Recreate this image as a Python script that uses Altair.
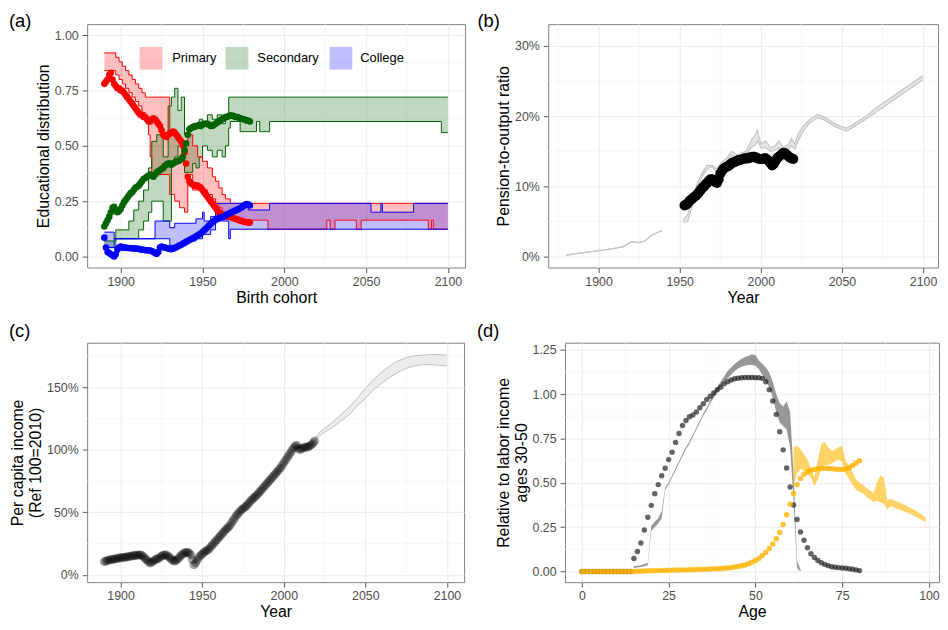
import altair as alt
import pandas as pd

FONT = "Liberation Sans"
MINOR = "#F3F3F3"

# ---------------- Panel (a): educational distribution ----------------
EDU_LEVELS = ["Primary", "Secondary", "College"]
EDU_COLORS = ["red", "darkgreen", "blue"]

COHORTS = list(range(1890, 1980))
PRIMARY_OBS = [
    0.78, 0.79, 0.80, 0.82, 0.83, 0.80, 0.78, 0.77, 0.76, 0.76,
    0.75, 0.75, 0.74, 0.73, 0.72, 0.71, 0.70, 0.69, 0.68, 0.67,
    0.66, 0.65, 0.64, 0.64, 0.63, 0.63, 0.62, 0.61, 0.61, 0.62,
    0.625, 0.62, 0.61, 0.60, 0.59, 0.57, 0.55, 0.545, 0.54, 0.55,
    0.555, 0.56, 0.565, 0.56, 0.55, 0.54, 0.53, 0.52, 0.50, 0.47,
    0.42, 0.36, 0.34, 0.33, 0.325, 0.32, 0.32, 0.32, 0.315, 0.31,
    0.30, 0.29, 0.28, 0.27, 0.26, 0.25, 0.24, 0.23, 0.22, 0.21,
    0.20, 0.195, 0.19, 0.185, 0.185, 0.18, 0.18, 0.178, 0.176, 0.173,
    0.17, 0.168, 0.165, 0.162, 0.16, 0.158, 0.156, 0.155, 0.154, 0.153,
]
SECONDARY_OBS = [
    0.135, 0.15, 0.165, 0.18, 0.20, 0.22, 0.225, 0.21, 0.20, 0.205,
    0.215, 0.23, 0.245, 0.255, 0.265, 0.275, 0.285, 0.29, 0.30, 0.31,
    0.315, 0.32, 0.33, 0.34, 0.35, 0.355, 0.36, 0.365, 0.37, 0.365,
    0.36, 0.37, 0.38, 0.385, 0.39, 0.395, 0.40, 0.41, 0.415, 0.42,
    0.42, 0.415, 0.42, 0.425, 0.43, 0.43, 0.435, 0.44, 0.45, 0.48,
    0.51, 0.55, 0.575, 0.58, 0.585, 0.585, 0.59, 0.59, 0.595, 0.59,
    0.595, 0.60, 0.60, 0.60, 0.595, 0.59, 0.59, 0.595, 0.60, 0.605,
    0.61, 0.615, 0.62, 0.625, 0.63, 0.63, 0.635, 0.637, 0.637, 0.635,
    0.63, 0.63, 0.628, 0.625, 0.622, 0.62, 0.618, 0.615, 0.613, 0.61,
]
COLLEGE_OBS = [
    0.085, 0.04, 0.02, 0.015, 0.01, 0.005, 0.0, 0.01, 0.03, 0.04,
    0.045, 0.04, 0.04, 0.04, 0.038, 0.038, 0.037, 0.037, 0.036, 0.036,
    0.035, 0.035, 0.032, 0.03, 0.03, 0.028, 0.028, 0.027, 0.027, 0.025,
    0.02, 0.015, 0.012, 0.02, 0.04, 0.045, 0.042, 0.04, 0.038, 0.036,
    0.034, 0.033, 0.035, 0.038, 0.042, 0.046, 0.05, 0.053, 0.057, 0.062,
    0.066, 0.07, 0.074, 0.078, 0.082, 0.086, 0.09, 0.095, 0.10, 0.105,
    0.11, 0.118, 0.125, 0.132, 0.14, 0.148, 0.155, 0.16, 0.165, 0.17,
    0.173, 0.176, 0.178, 0.18, 0.185, 0.19, 0.193, 0.197, 0.20, 0.204,
    0.207, 0.21, 0.214, 0.218, 0.222, 0.228, 0.233, 0.237, 0.235, 0.23,
]

PRIM_YEARS = [1890, 1897, 1899, 1901, 1903, 1905, 1907, 1909, 1911, 1913, 1915, 1917, 1918,
              1919, 1930, 1933, 1936, 1939, 1941, 1944, 1947, 1950, 1953, 1956, 1958, 1960,
              1962, 1964, 1967, 1990, 2026, 2028, 2031, 2044, 2047, 2088, 2090, 2091, 2100]
PRIM_LO = [0.84, 0.82, 0.80, 0.78, 0.76, 0.74, 0.72, 0.70, 0.68, 0.65, 0.62, 0.55, 0.45,
           0.37, 0.28, 0.25, 0.22, 0.20, 0.37, 0.30, 0.30, 0.30, 0.28, 0.26, 0.24, 0.22,
           0.20, 0.18, 0.164, 0.123, 0.164, 0.123, 0.164, 0.123, 0.164, 0.123, 0.164, 0.123, 0.123]
PRIM_HI = [0.92, 0.90, 0.88, 0.86, 0.84, 0.82, 0.80, 0.78, 0.76, 0.74, 0.72, 0.72, 0.72,
           0.72, 0.55, 0.55, 0.52, 0.52, 0.55, 0.50, 0.45, 0.43, 0.40, 0.36, 0.34, 0.31,
           0.28, 0.26, 0.24, 0.24, 0.24, 0.24, 0.24, 0.24, 0.24, 0.24, 0.24, 0.24, 0.24]

SEC_YEARS = [1890, 1897, 1905, 1908, 1911, 1914, 1917, 1919, 1922, 1926, 1929, 1931, 1933,
             1935, 1937, 1939, 1942, 1944, 1946, 1948, 1950, 1953, 1956, 1959, 1962, 1964,
             1966, 1967, 1973, 1983, 1985, 1991, 2096, 2100]
SEC_LO = [0.04, 0.08, 0.08, 0.08, 0.12, 0.16, 0.20, 0.25, 0.25, 0.16, 0.16, 0.42, 0.45,
          0.50, 0.52, 0.38, 0.38, 0.42, 0.40, 0.45, 0.50, 0.48, 0.45, 0.48, 0.45, 0.50,
          0.58, 0.61, 0.564, 0.61, 0.564, 0.61, 0.56, 0.56]
SEC_HI = [0.07, 0.12, 0.16, 0.21, 0.25, 0.30, 0.40, 0.52, 0.55, 0.45, 0.68, 0.72, 0.76,
          0.66, 0.72, 0.55, 0.58, 0.60, 0.58, 0.62, 0.60, 0.64, 0.62, 0.64, 0.60, 0.64,
          0.72, 0.72, 0.72, 0.72, 0.72, 0.72, 0.72, 0.72]

COLL_YEARS = [1890, 1896, 1921, 1930, 1933, 1940, 1946, 1950, 1951, 1955, 1958, 1966,
              1967, 1978, 1991, 2053, 2059, 2060, 2079, 2100]
COLL_LO = [0.04, 0.08, 0.08, 0.05, 0.05, 0.07, 0.08, 0.10, 0.10, 0.12, 0.16, 0.08,
           0.123, 0.123, 0.123, 0.123, 0.123, 0.123, 0.123, 0.123]
COLL_HI = [0.11, 0.08, 0.16, 0.13, 0.15, 0.15, 0.17, 0.20, 0.16, 0.18, 0.24, 0.24,
           0.24, 0.21, 0.24, 0.20, 0.24, 0.20, 0.24, 0.24]

# ---------------- Panel (b): pension-to-output ratio ----------------
B_EARLY_YEARS = [1880, 1885, 1890, 1895, 1900, 1905, 1910, 1915, 1918, 1920, 1922, 1925,
                 1928, 1930, 1933, 1936, 1939]
B_EARLY = [0.2, 0.4, 0.55, 0.7, 0.85, 1.0, 1.2, 1.4, 1.8, 2.1, 2.1, 2.0, 2.2, 2.5, 3.1, 3.4, 3.7]
B_SIM_YEARS = [1952, 1955, 1958, 1961, 1964, 1967, 1970, 1973, 1976, 1979, 1982, 1985, 1988,
               1991, 1994, 1997, 1998, 2000, 2003, 2006, 2009, 2011, 2014, 2017, 2019, 2021,
               2023, 2026, 2030, 2035, 2040, 2045, 2050, 2053, 2056, 2060, 2065, 2070, 2075,
               2080, 2085, 2090, 2095, 2100]
B_SIM_HI = [5.2, 6.0, 8.5, 10.5, 12.0, 13.0, 13.0, 12.5, 13.5, 14.0, 15.0, 14.5, 14.8,
            15.0, 16.5, 17.5, 18.0, 16.0, 16.5, 15.5, 15.8, 16.5, 15.5, 16.0, 16.8, 16.0,
            17.5, 18.5, 19.5, 20.2, 19.8, 19.0, 18.5, 18.3, 18.7, 19.3, 20.0, 21.0, 21.8,
            22.6, 23.4, 24.2, 25.0, 25.7]
B_SIM_LO = [4.9, 5.0, 7.5, 9.8, 11.5, 12.5, 12.8, 12.0, 13.0, 13.5, 14.5, 14.0, 14.3,
            14.5, 15.5, 16.0, 16.5, 15.5, 15.5, 15.0, 15.2, 15.5, 15.0, 15.3, 15.8, 15.3,
            16.5, 17.8, 19.0, 19.8, 19.4, 18.6, 18.1, 17.9, 18.3, 18.9, 19.6, 20.4, 21.2,
            22.0, 22.8, 23.6, 24.4, 25.2]
B_OBS_YEARS = list(range(1953, 2021))
B_OBS = [
    7.3, 7.4, 7.6, 7.9, 8.1, 8.3, 8.5, 8.7, 8.9, 9.2,
    9.5, 9.8, 10.0, 10.3, 10.5, 10.8, 11.0, 11.0, 10.8, 10.6,
    10.5, 11.0, 11.8, 12.2, 12.5, 12.7, 12.8, 12.9, 13.1, 13.3,
    13.4, 13.5, 13.6, 13.7, 13.8, 13.8, 13.9, 14.0, 14.0, 14.0,
    14.1, 14.1, 14.2, 14.2, 14.1, 14.0, 13.9, 13.9, 13.9, 14.0,
    14.0, 13.8, 13.6, 13.3, 13.0, 13.2, 13.6, 14.0, 14.2, 14.4,
    14.6, 14.8, 14.7, 14.5, 14.3, 14.1, 14.0, 13.9,
]

# ---------------- Panel (c): per capita income ----------------
C_OBS_YEARS = list(range(1890, 2020))
C_OBS = [
    10.5, 11, 11.5, 12, 12, 12.5, 12.5, 13, 13, 13.5,
    13.5, 14, 14, 14, 14.5, 14.5, 15, 15, 15.5, 15.5,
    15.5, 16, 16, 15.5, 14.5, 13, 12, 10.5, 9.5, 10,
    11, 12, 12.5, 13, 14, 15, 15.5, 16, 16, 15,
    14, 12.5, 11.5, 11, 11.5, 12.5, 14, 15.5, 16.5, 17.5,
    18, 18, 17.5, 16, 12, 8, 9.5, 12, 14, 15.5,
    16.5, 18, 19, 19.5, 20.5, 22, 23.5, 25, 26.5, 28,
    29.5, 31, 32.5, 34, 35.5, 37, 38, 39.5, 41.5, 43.5,
    45.5, 47.5, 49, 50.5, 52, 53, 54, 55, 56.5, 58,
    59.5, 61, 62, 63, 64.5, 66, 67.5, 69, 70.5, 72,
    73.5, 75, 76.5, 78, 79.5, 81, 82.5, 84, 85.5, 87.5,
    89.5, 91.5, 93.5, 95.5, 97.5, 99.5, 101.5, 103, 103.5, 101,
    100, 101, 101.5, 102, 102, 102.5, 103, 104, 105.5, 107,
]
C_PROJ_YEARS = [2019, 2022, 2025, 2030, 2035, 2040, 2045, 2050, 2055, 2060, 2065, 2070,
                2075, 2080, 2085, 2090, 2095, 2100]
C_PROJ_LO = [107, 111, 114, 118, 123, 128, 135, 141, 148, 153, 158, 162, 165, 167, 168,
             168, 167.5, 167]
C_PROJ_HI = [109, 114, 117, 122, 128, 134, 141, 149, 156, 162, 167, 171, 173.5, 175, 175.5,
             176, 176, 175.5]

# ---------------- Panel (d): age profiles ----------------
AGES = list(range(0, 81))
LABOR_OBS = [0.0] * 15 + [
    0.073, 0.113, 0.161, 0.234, 0.306, 0.373, 0.439, 0.49, 0.54, 0.582,
    0.631, 0.673, 0.728, 0.778, 0.823, 0.851, 0.873, 0.882, 0.90, 0.924,
    0.946, 0.97, 0.988, 1.006, 1.025, 1.039, 1.058, 1.07, 1.08, 1.087,
    1.09, 1.092, 1.094, 1.094, 1.094, 1.092, 1.092, 1.089, 1.07, 1.025,
    0.961, 0.886, 0.788, 0.686, 0.584, 0.476, 0.375, 0.293, 0.223, 0.176,
    0.134, 0.10, 0.079, 0.062, 0.049, 0.04, 0.033, 0.027, 0.024, 0.022,
    0.02, 0.018, 0.016, 0.013, 0.009, 0.005,
]
PENSION_OBS = [0.0] * 15 + [
    0.0, 0.001, 0.002, 0.003, 0.004, 0.004, 0.005, 0.005, 0.006, 0.006,
    0.007, 0.007, 0.008, 0.008, 0.009, 0.009, 0.010, 0.010, 0.011, 0.012,
    0.012, 0.013, 0.014, 0.015, 0.016, 0.017, 0.018, 0.02, 0.022, 0.025,
    0.028, 0.032, 0.037, 0.044, 0.052, 0.062, 0.074, 0.09, 0.108, 0.13,
    0.155, 0.185, 0.22, 0.265, 0.32, 0.38, 0.44, 0.49, 0.525, 0.548,
    0.562, 0.571, 0.576, 0.579, 0.581, 0.582, 0.581, 0.579, 0.577, 0.576,
    0.575, 0.578, 0.585, 0.598, 0.612, 0.625,
]
LAB_SIM_AGES = list(range(15, 64))
LAB_SIM_LO = [0.02, 0.022, 0.025, 0.03, 0.035, 0.23, 0.25, 0.27, 0.30,
              0.46, 0.49, 0.53, 0.57, 0.61, 0.65, 0.69, 0.72, 0.76, 0.80, 0.84, 0.88, 0.91,
              0.95, 0.98, 1.01, 1.04, 1.065, 1.09, 1.11, 1.13, 1.145, 1.155, 1.16, 1.165,
              1.165, 1.16, 1.14, 1.11, 1.07, 1.04, 0.98, 0.90, 0.84, 0.82, 0.80, 0.70,
              0.40, 0.02, 0.0]
LAB_SIM_HI = [0.03, 0.032, 0.035, 0.042, 0.048, 0.26, 0.28, 0.30, 0.34,
              0.472, 0.502, 0.542, 0.582, 0.622, 0.662, 0.702, 0.732, 0.772, 0.812, 0.852,
              0.892, 0.925, 0.965, 1.01, 1.04, 1.07, 1.10, 1.13, 1.15, 1.17, 1.185, 1.20,
              1.21, 1.215, 1.225, 1.22, 1.19, 1.17, 1.15, 1.12, 1.07, 1.00, 0.95, 0.93,
              0.96, 0.90, 0.55, 0.06, 0.01]
PEN_SIM_AGES = list(range(61, 91)) + [92, 94, 96, 98, 99]
PEN_SIM_LO = [0.48, 0.55, 0.58, 0.57, 0.55, 0.53, 0.48, 0.52, 0.58, 0.60, 0.60, 0.61,
              0.62, 0.63, 0.62, 0.55, 0.52, 0.49, 0.46, 0.45, 0.44, 0.42, 0.41, 0.39,
              0.40, 0.39, 0.38, 0.35, 0.37, 0.36, 0.345, 0.33, 0.31, 0.29, 0.275]
PEN_SIM_HI = [0.70, 0.71, 0.69, 0.66, 0.63, 0.58, 0.53, 0.63, 0.72, 0.73, 0.70, 0.68,
              0.69, 0.70, 0.71, 0.62, 0.60, 0.56, 0.52, 0.50, 0.49, 0.47, 0.46, 0.44,
              0.50, 0.54, 0.53, 0.40, 0.41, 0.40, 0.385, 0.365, 0.345, 0.32, 0.305]


# ---------------- helpers ----------------
def xq(field, dom, ticks, title, fmt):
    return alt.X(f"{field}:Q", scale=alt.Scale(domain=dom, nice=False, zero=False),
                 axis=alt.Axis(values=ticks, format=fmt, title=title))


def yq(field, dom, ticks, title, fmt):
    return alt.Y(f"{field}:Q", scale=alt.Scale(domain=dom, nice=False, zero=False),
                 axis=alt.Axis(values=ticks, format=fmt, title=title))


def minor_x(vals, X):
    return alt.Chart(pd.DataFrame({"m": vals})).mark_rule(
        color=MINOR, strokeWidth=0.7).encode(x=X("m"))


def minor_y(vals, Y):
    return alt.Chart(pd.DataFrame({"m": vals})).mark_rule(
        color=MINOR, strokeWidth=0.7).encode(y=Y("m"))


def tag(label, dx, dy):
    return alt.Chart(pd.DataFrame({"t": [label]})).mark_text(
        align="left", baseline="middle", fontSize=18.5, font=FONT, color="black"
    ).encode(text="t:N", x=alt.value(dx), y=alt.value(dy))


def key(label, color, kx, lx, ky):
    df = pd.DataFrame({"k": [label]})
    sq = alt.Chart(df).mark_square(size=529, color=color, opacity=0.25).encode(
        x=alt.value(kx), y=alt.value(ky))
    tx = alt.Chart(df).mark_text(align="left", baseline="middle", fontSize=13,
                                 font=FONT, color="black").encode(
        text="k:N", x=alt.value(lx), y=alt.value(ky))
    return [sq, tx]


YEAR_TICKS = [1900, 1950, 2000, 2050, 2100]
LEFT = 79  # offset from each left panel's plot edge to the page edge

# ---------------- build panel (a) ----------------
XA = lambda f: xq(f, [1879.5, 2110.5], YEAR_TICKS, "Birth cohort", "d")
YA = lambda f: yq(f, [-0.05, 1.05], [0, 0.25, 0.5, 0.75, 1.0], "Educational distribution", ".2f")

obs_a = pd.concat([pd.DataFrame({"x": COHORTS, "y": v, "edu": lvl})
                   for lvl, v in zip(EDU_LEVELS, [PRIMARY_OBS, SECONDARY_OBS, COLLEGE_OBS])])
rib_a = pd.concat([
    pd.DataFrame({"x": PRIM_YEARS, "lo": PRIM_LO, "hi": PRIM_HI, "edu": "Primary"}),
    pd.DataFrame({"x": SEC_YEARS, "lo": SEC_LO, "hi": SEC_HI, "edu": "Secondary"}),
    pd.DataFrame({"x": COLL_YEARS, "lo": COLL_LO, "hi": COLL_HI, "edu": "College"}),
])
edu_scale = alt.Scale(domain=EDU_LEVELS, range=EDU_COLORS)

area_a = alt.Chart(rib_a).mark_area(interpolate="step-after", fillOpacity=0.25).encode(
    x=XA("x"), y=YA("lo"), y2="hi:Q",
    fill=alt.Fill("edu:N", scale=edu_scale, legend=None))
lo_a = alt.Chart(rib_a).mark_line(interpolate="step-after", strokeWidth=1).encode(
    x=XA("x"), y=YA("lo"), stroke=alt.Stroke("edu:N", scale=edu_scale, legend=None))
hi_a = alt.Chart(rib_a).mark_line(interpolate="step-after", strokeWidth=1).encode(
    x=XA("x"), y=YA("hi"), stroke=alt.Stroke("edu:N", scale=edu_scale, legend=None))
pts_a = alt.Chart(obs_a).mark_circle(size=44, opacity=1).encode(
    x=XA("x"), y=YA("y"), color=alt.Color("edu:N", scale=edu_scale, legend=None))

legend_layers = []
for lvl, col, kx, lx in zip(EDU_LEVELS, EDU_COLORS, [64.5, 151.5, 256.5], [86, 172, 276]):
    legend_layers += key(lvl, col, kx, lx, 34.5)

panel_a = alt.layer(
    minor_x([1925, 1975, 2025, 2075], XA), minor_y([0.125, 0.375, 0.625, 0.875], YA),
    area_a, lo_a, hi_a, pts_a, *legend_layers, tag("(a)", -LEFT, -3.5),
).properties(width=382, height=246)

# ---------------- build panel (b) ----------------
XB = lambda f: xq(f, [1869, 2109.2], YEAR_TICKS, "Year", "d")
YB = lambda f: yq(f, [-0.0154, 0.331], [0, 0.1, 0.2, 0.3], "Pension-to-output ratio", ".0%")

rib_b = pd.concat([
    pd.DataFrame({"x": B_EARLY_YEARS, "lo": [v / 100 for v in B_EARLY],
                  "hi": [v / 100 for v in B_EARLY], "seg": "hist"}),
    pd.DataFrame({"x": B_SIM_YEARS, "lo": [v / 100 for v in B_SIM_LO],
                  "hi": [v / 100 for v in B_SIM_HI], "seg": "sim"}),
])
obs_b = pd.DataFrame({"x": B_OBS_YEARS, "y": [v / 100 for v in B_OBS]})

panel_b = alt.layer(
    minor_x([1875, 1925, 1975, 2025, 2075], XB), minor_y([0.05, 0.15, 0.25], YB),
    alt.Chart(rib_b).mark_area(color="#E6E6E6").encode(x=XB("x"), y=YB("lo"), y2="hi:Q", detail="seg:N"),
    alt.Chart(rib_b).mark_line(color="#C4C4C4", strokeWidth=1.2).encode(x=XB("x"), y=YB("lo"), detail="seg:N"),
    alt.Chart(rib_b).mark_line(color="#C4C4C4", strokeWidth=1.2).encode(x=XB("x"), y=YB("hi"), detail="seg:N"),
    alt.Chart(obs_b).mark_circle(size=105, opacity=1, color="black").encode(x=XB("x"), y=YB("y")),
    tag("(b)", -71.5, -3.5),
).properties(width=394, height=246)

# ---------------- build panel (c) ----------------
XC = lambda f: xq(f, [1879.5, 2110.5], YEAR_TICKS, "Year", "d")
YC = lambda f: yq(f, [-0.058, 1.855], [0, 0.5, 1.0, 1.5],
                  ["Per capita income", "(Ref 100=2010)"], ".0%")

rib_c = pd.DataFrame({"x": C_PROJ_YEARS, "lo": [v / 100 for v in C_PROJ_LO],
                      "hi": [v / 100 for v in C_PROJ_HI]})
obs_c = pd.DataFrame({"x": C_OBS_YEARS, "y": [v / 100 for v in C_OBS]})

panel_c = alt.layer(
    minor_x([1925, 1975, 2025, 2075], XC), minor_y([0.25, 0.75, 1.25, 1.75], YC),
    alt.Chart(rib_c).mark_area(color="#EDEDED").encode(x=XC("x"), y=YC("lo"), y2="hi:Q"),
    alt.Chart(rib_c).mark_line(color="#BDBDBD", strokeWidth=1).encode(x=XC("x"), y=YC("lo")),
    alt.Chart(rib_c).mark_line(color="#BDBDBD", strokeWidth=1).encode(x=XC("x"), y=YC("hi")),
    alt.Chart(obs_c).mark_circle(size=80, opacity=0.35, color="black").encode(x=XC("x"), y=YC("y")),
    tag("(c)", -LEFT, -12),
).properties(width=381, height=242)

# ---------------- build panel (d) ----------------
XD = lambda f: xq(f, [-4.85, 102.9], [0, 25, 50, 75, 100], "Age", "d")
YD = lambda f: yq(f, [-0.06, 1.29], [0, 0.25, 0.5, 0.75, 1.0, 1.25],
                  ["Relative to labor income", "ages 30-50"], ".2f")

lab_rib = pd.DataFrame({"x": LAB_SIM_AGES, "lo": LAB_SIM_LO, "hi": LAB_SIM_HI})
pen_rib = pd.DataFrame({"x": PEN_SIM_AGES, "lo": PEN_SIM_LO, "hi": PEN_SIM_HI})
lab_pts = pd.DataFrame({"x": AGES, "y": LABOR_OBS})
pen_pts = pd.DataFrame({"x": AGES, "y": PENSION_OBS})

panel_d = alt.layer(
    minor_x([12.5, 37.5, 62.5, 87.5], XD),
    minor_y([0.125, 0.375, 0.625, 0.875, 1.125], YD),
    alt.Chart(lab_rib).mark_area(color="#8C8C8C", opacity=0.9).encode(x=XD("x"), y=YD("lo"), y2="hi:Q"),
    alt.Chart(pen_rib).mark_area(color="#FFC125", opacity=0.7).encode(x=XD("x"), y=YD("lo"), y2="hi:Q"),
    alt.Chart(lab_pts).mark_circle(size=30, opacity=0.68, color="#1a1a1a").encode(x=XD("x"), y=YD("y")),
    alt.Chart(pen_pts).mark_circle(size=30, opacity=0.8, color="#FFB300").encode(x=XD("x"), y=YD("y")),
    tag("(d)", -89, -12),
).properties(width=378, height=242)

row1 = alt.hconcat(panel_a, panel_b, spacing=11)
row2 = alt.hconcat(panel_c, panel_d, spacing=11)

chart = alt.vconcat(row1, row2, spacing=15).properties(
    padding=0, background="white"
).configure(font=FONT).configure_view(
    stroke="#7F7F7F", strokeWidth=1
).configure_axis(
    labelFont=FONT, labelFontSize=12.5, labelColor="#4D4D4D",
    titleFont=FONT, titleFontSize=16, titleColor="black", titleFontWeight="normal",
    titleLineHeight=18,
    tickColor="#555555", tickSize=5, tickWidth=1,
    gridColor="#EBEBEB", gridWidth=1, domain=False, labelFlush=False, labelOverlap=False,
).configure_axisX(
    labelPadding=3, titlePadding=1.5,
).configure_axisY(
    labelPadding=4, titlePadding=3,
)

chart.save("out.html", embed_options={"renderer": "svg", "actions": False})
